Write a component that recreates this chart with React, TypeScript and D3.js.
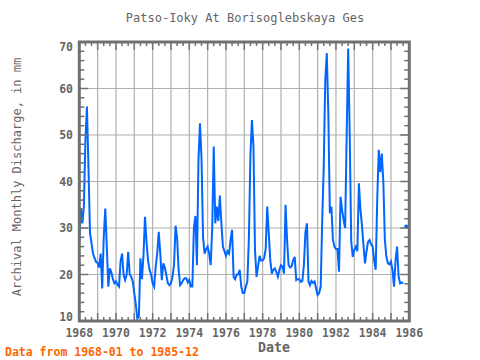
import React from 'react';
import * as d3 from 'd3';

const START_YEAR = 1968;
const v1968 = [27, 34.3, 31, 34.7, 48.9, 56.1, 43, 29, 26.7, 24.5, 23.5, 22.7];
const v1969 = [22.5, 21.5, 24.5, 17, 28, 34.2, 26, 17.4, 21.3, 20.5, 19, 18.1];
const v1970 = [18.5, 17.8, 17.4, 22.8, 24.5, 20, 18.8, 20, 24.9, 20, 19.5, 18.5];
const v1971 = [16, 13.5, 10.5, 11, 23.5, 19, 24, 32.4, 27, 23, 21, 20];
const v1972 = [18.1, 17.4, 21.7, 24.5, 29.2, 24.5, 18.8, 22.4, 21.5, 19.8, 18.1, 17.7];
const v1973 = [18.1, 19.5, 22, 30.5, 28, 21, 17.7, 18.1, 18.8, 19.2, 19.2, 18.3];
const v1974 = [18.8, 17.4, 17.4, 30, 32.6, 22, 44.6, 52.5, 45, 28, 24.5, 25.5];
const v1975 = [26, 24.5, 22, 30, 47.5, 31, 34.6, 31.5, 37, 31, 26, 25];
const v1976 = [24, 25, 24.5, 27.4, 29.6, 19.5, 19, 20, 20, 21, 17.4, 16];
const v1977 = [16, 17.4, 18.5, 27.8, 45.7, 53.2, 47.5, 25.3, 19.5, 21.7, 24, 23];
const v1978 = [23, 23.5, 25.5, 34.6, 28.9, 23.1, 20.2, 21, 21.3, 20.5, 19.5, 21];
const v1979 = [22, 21.7, 20.2, 35, 27.4, 22, 21.5, 21.8, 23.1, 23.8, 18.8, 19];
const v1980 = [19, 18.4, 18.6, 22, 29, 31, 18.5, 17.7, 18.6, 18.2, 18.5, 17];
const v1981 = [15.6, 16, 17.4, 31.7, 43.2, 61.8, 67.6, 54.7, 33.2, 34.6, 27.5, 26];
const v1982 = [25.5, 25.5, 20.6, 36.7, 33.9, 31.7, 30, 50, 68.6, 50, 27, 23.8];
const v1983 = [25.3, 26, 25, 39.6, 34, 30.6, 26.3, 22.4, 25, 27, 27.4, 26.5];
const v1984 = [26, 23.1, 21, 36, 46.8, 42, 46, 40, 27.4, 23.8, 22.4, 22.2];
const v1985: (number | null)[] = [22.8, 21, 17.4, 23, 26, 19.5, 18.1, 18.3, 18.1, null, 30.3, null];

const yearSeries: (number | null)[][] = [
  v1968, v1969, v1970, v1971, v1972, v1973, v1974, v1975, v1976,
  v1977, v1978, v1979, v1980, v1981, v1982, v1983, v1984, v1985,
];

const xLabelYears = [1968, 1970, 1972, 1974, 1976, 1978, 1980, 1982, 1984, 1986];
const yLabelValues = [10, 20, 30, 40, 50, 60, 70];

const TITLE = 'Patso-Ioky At Borisoglebskaya Ges';
const Y_TITLE = 'Archival Monthly Discharge, in mm';
const X_TITLE = 'Date';
const NOTE = 'Data from 1968-01 to 1985-12';

export default function App() {
  const W = 480, H = 360;
  const L = 79.3, R = 409.3, T = 42, B = 321;
  const x = d3.scaleLinear().domain([1968, 1986]).range([L, R]);
  const y = d3.scaleLinear().domain([10, 70]).range([B, T]);

  const data = yearSeries.flat().map((v, i) => ({ t: START_YEAR + i / 12, v }));
  const line = d3
    .line<{ t: number; v: number | null }>()
    .defined((d) => d.v != null)
    .x((d) => x(d.t))
    .y((d) => y(d.v as number));
  const path = line(data) || '';
  const isolated = data.filter(
    (d, i) =>
      d.v != null &&
      (i === 0 || data[i - 1].v == null) &&
      (i === data.length - 1 || data[i + 1].v == null)
  );

  const gridYears = d3.range(1969, 1986);
  const gridVals = [20, 30, 40, 50, 60];
  const xMinor = d3.range(0, 18 * 3 + 1).map((k) => 1968 + k / 3);
  const yMinor = d3.range(10, 71, 2);

  const axisColor = '#707070';
  const textColor = '#666666';
  const font = "'DejaVu Sans Mono', monospace";

  // keep end labels inside the frame
  const labelY = (v: number) => Math.min(B - 4, Math.max(T + 4.5, y(v)));

  return (
    <svg
      width={W}
      height={H}
      style={{ position: 'absolute', left: 0, top: 0, background: '#fff' }}
      xmlns="http://www.w3.org/2000/svg"
    >
      <rect x={0} y={0} width={W} height={H} fill="#fff" />
      <g stroke="#b0b0b0" strokeWidth={1.2}>
        {gridYears.map((yr) => (
          <line key={'gx' + yr} x1={x(yr)} x2={x(yr)} y1={T} y2={B} />
        ))}
        {gridVals.map((v) => (
          <line key={'gy' + v} x1={L} x2={R} y1={y(v)} y2={y(v)} />
        ))}
      </g>
      <path d={path} fill="none" stroke="#0066ff" strokeWidth={2} strokeLinejoin="miter" />
      {isolated.map((d, i) => (
        <circle key={'iso' + i} cx={x(d.t)} cy={y(d.v as number)} r={2} fill="#0066ff" />
      ))}
      <g stroke={axisColor} strokeWidth={1.5}>
        {xMinor.map((t, i) => {
          const major = Math.abs(t - Math.round(t)) < 1e-6;
          const len = major ? 8 : 4;
          return (
            <g key={'xt' + i}>
              <line x1={x(t)} x2={x(t)} y1={B} y2={B - len} />
              <line x1={x(t)} x2={x(t)} y1={T} y2={T + len} />
            </g>
          );
        })}
        {yMinor.map((v) => {
          const major = v % 10 === 0;
          const len = major ? 9 : 5;
          return (
            <g key={'yt' + v}>
              <line x1={L} x2={L + len} y1={y(v)} y2={y(v)} />
              <line x1={R} x2={R - len} y1={y(v)} y2={y(v)} />
            </g>
          );
        })}
      </g>
      <rect x={L} y={T} width={R - L} height={B - T} fill="none" stroke={axisColor} strokeWidth={3} />
      <g fontFamily={font} fontSize={11.5} fontWeight="bold" fill={textColor}>
        {xLabelYears.map((yr) => (
          <text key={'xl' + yr} x={x(yr)} y={337} textAnchor="middle">
            {yr}
          </text>
        ))}
        {yLabelValues.map((v) => (
          <text key={'yl' + v} x={73} y={labelY(v) + 4} textAnchor="end">
            {v}
          </text>
        ))}
      </g>
      <text x={245} y={22} textAnchor="middle" fontFamily={font} fontSize={12} fill={textColor}>
        {TITLE}
      </text>
      <text
        transform={`translate(21, 177) rotate(-90)`}
        textAnchor="middle"
        fontFamily={font}
        fontSize={12}
        fill={textColor}
      >
        {Y_TITLE}
      </text>
      <text x={274} y={352} textAnchor="middle" fontFamily={font} fontSize={13.3} fontWeight="bold" fill={textColor}>
        {X_TITLE}
      </text>
      <text x={5} y={356} fontFamily={font} fontSize={11.5} fontWeight="bold" fill="#ff6600">
        {NOTE}
      </text>
    </svg>
  );
}
